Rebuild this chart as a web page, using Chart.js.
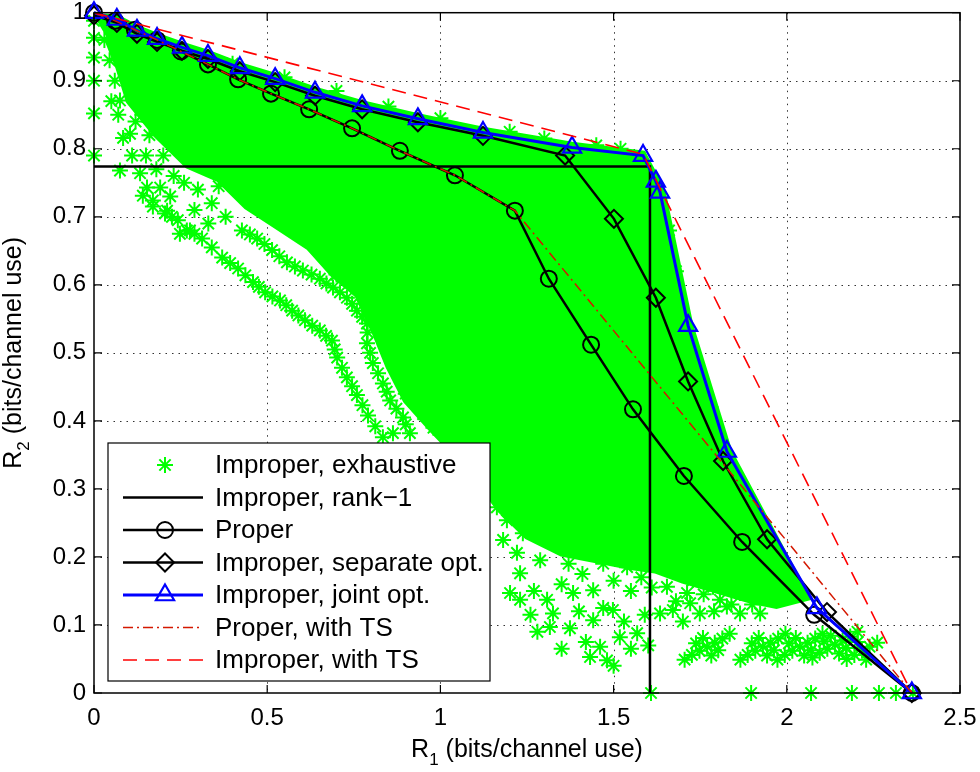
<!DOCTYPE html>
<html lang="en">
<head>
<meta charset="UTF-8" />
<title>Rate region - proper vs improper signaling</title>
<script src="https://cdn.jsdelivr.net/npm/chart.js@4.4.0/dist/chart.umd.min.js"></script>
<style>
  html, body { margin: 0; padding: 0; background: #fff; }
  #wrap { width: 980px; height: 772px; }
</style>
</head>
<body>
<div id="wrap"><canvas id="regionChart" width="980" height="772"></canvas></div>
<script>
// ---- axis ticks ----
var xTicks = [0, 0.5, 1, 1.5, 2, 2.5];
var xTickLabels = ["0", "0.5", "1", "1.5", "2", "2.5"];
var yTicks = [0, 0.1, 0.2, 0.3, 0.4, 0.5, 0.6, 0.7, 0.8, 0.9, 1];
var yTickLabels = ["0", "0.1", "0.2", "0.3", "0.4", "0.5", "0.6", "0.7", "0.8", "0.9", "1"];

// ---- curves (R1, R2) ----
var properR1 = [0, 0.061, 0.118, 0.182, 0.251, 0.329, 0.416, 0.511, 0.621, 0.745, 0.883, 1.042, 1.215, 1.313, 1.435, 1.556, 1.703, 1.871, 2.079, 2.361];
var properR2 = [1.0, 0.988, 0.975, 0.960, 0.943, 0.924, 0.902, 0.881, 0.858, 0.830, 0.797, 0.761, 0.709, 0.609, 0.512, 0.417, 0.319, 0.222, 0.115, 0];

var sepR1 = [0, 0.066, 0.124, 0.182, 0.254, 0.329, 0.421, 0.523, 0.638, 0.774, 0.935, 1.123, 1.360, 1.501, 1.622, 1.715, 1.816, 1.943, 2.116, 2.361];
var sepR2 = [0.996, 0.985, 0.969, 0.957, 0.944, 0.932, 0.914, 0.898, 0.878, 0.858, 0.839, 0.819, 0.790, 0.697, 0.581, 0.458, 0.341, 0.226, 0.119, 0];

var jointR1 = [0, 0.066, 0.124, 0.182, 0.254, 0.329, 0.421, 0.523, 0.638, 0.774, 0.935, 1.123, 1.380, 1.585, 1.622, 1.634, 1.715, 1.827, 2.087, 2.361];
var jointR2 = [1.0, 0.990, 0.974, 0.962, 0.949, 0.937, 0.919, 0.903, 0.883, 0.863, 0.844, 0.824, 0.802, 0.790, 0.752, 0.736, 0.540, 0.355, 0.125, 0];

var rank1R1 = [0, 1.605, 1.605];
var rank1R2 = [0.774, 0.774, 0];

var properTsR1 = [0, 0.061, 0.118, 0.182, 0.251, 0.329, 0.416, 0.511, 0.621, 0.745, 0.883, 1.042, 1.215, 2.361];
var properTsR2 = [1.0, 0.988, 0.975, 0.960, 0.943, 0.924, 0.902, 0.881, 0.858, 0.830, 0.797, 0.761, 0.709, 0];

var improperTsR1 = [0, 1.585, 2.361];
var improperTsR2 = [1.0, 0.792, 0];

// ---- exhaustive search: dense core outline ----
var coreR1 = [0, 0.066, 0.124, 0.182, 0.254, 0.329, 0.421, 0.523, 0.638, 0.774, 0.935, 1.123, 1.380, 1.585, 1.628, 1.642, 1.722, 1.834, 2.06,
              1.97, 1.90, 1.80, 1.70, 1.62, 1.55, 1.45, 1.35, 1.25, 1.17, 1.10, 0.97, 0.90, 0.85, 0.81, 0.76, 0.69, 0.62, 0.53, 0.44, 0.36, 0.27, 0.18, 0.10, 0.07, 0.035];
var coreR2 = [0.995, 0.993, 0.978, 0.966, 0.953, 0.941, 0.923, 0.907, 0.887, 0.867, 0.848, 0.828, 0.806, 0.793, 0.752, 0.736, 0.540, 0.355, 0.14,
              0.128, 0.135, 0.15, 0.165, 0.18, 0.185, 0.195, 0.205, 0.23, 0.27, 0.32, 0.39, 0.43, 0.48, 0.53, 0.585, 0.615, 0.655, 0.685, 0.715, 0.755, 0.775, 0.82, 0.87, 0.92, 0.965];

// ---- exhaustive search: scattered points ----
var exhR1 = [
  0, 0, 0, 0, 0, 0,
  0.03, 0.045, 0.06, 0.05, 0.07, 0.084, 0.095, 0.075, 0.084, 0.104, 0.075, 0.133, 0.153, 0.170, 0.211, 0.191, 0.248, 0.277,
  0.12, 0.14, 0.16, 0.11, 0.20, 0.23, 0.17, 0.30, 0.34, 0.38, 0.33, 0.12, 0.15, 0.18, 0.26, 0.22, 0.29, 0.36,
  0.141, 0.205, 0.242, 0.268, 0.312, 0.370, 0.416, 0.459, 0.494, 0.537, 0.572, 0.609, 0.652, 0.687, 0.702, 0.730, 0.759, 0.791, 0.834, 0.863,
  0.17, 0.225, 0.29, 0.34, 0.393, 0.437, 0.476, 0.515, 0.555, 0.59, 0.63, 0.67, 0.695, 0.716, 0.745, 0.775, 0.812,
  0.427, 0.471, 0.514, 0.557, 0.603, 0.652, 0.690, 0.730, 0.759, 0.788, 0.788, 0.805, 0.834, 0.855, 0.892, 0.912,
  0.45, 0.492, 0.535, 0.58, 0.628, 0.671, 0.71, 0.745, 0.774, 0.79, 0.797, 0.82, 0.845, 0.873, 0.90,
  0.88, 0.90, 0.93, 0.95, 0.98, 1.00, 1.03, 1.06, 0.85, 0.83, 0.86, 0.81, 0.76, 0.70, 0.90, 0.94,
  0.70, 0.85, 1.00, 1.20, 1.30, 1.45, 1.52, 0.40, 0.55,
  1.745, 1.78, 1.85, 1.90, 1.95, 1.68, 1.66,
  1.163, 1.192, 1.181, 1.238, 1.221, 1.288, 1.230, 1.201, 1.230, 1.308, 1.383, 1.441, 1.325, 1.316, 1.374, 1.441, 1.498, 1.461, 1.518, 1.432,
  1.568, 1.481, 1.634, 1.671, 1.721, 1.749, 1.827, 1.865, 1.923, 1.972,
  1.403, 1.461, 1.518, 1.556, 1.597, 1.539, 1.432, 1.365, 1.308, 1.267,
  1.16, 1.20, 1.15, 1.25, 1.33, 1.37, 1.41, 1.47, 1.50, 1.55, 1.58, 1.61, 1.63, 1.35, 1.27, 1.26, 1.28, 1.40, 1.47, 1.53, 1.59, 1.60, 1.55, 1.50, 1.42, 1.35,
  1.654, 1.729, 1.787, 1.865, 1.943, 2.001, 1.654, 1.712, 1.807, 1.68, 1.76, 1.84, 1.90, 1.70, 1.79,
  1.770, 1.792, 1.748, 1.814, 1.726, 1.835, 1.705, 1.782, 1.758, 1.802, 1.738,
  1.931, 1.953, 1.909, 1.975, 1.887, 1.996, 1.866, 1.943, 1.919, 1.963, 1.899,
  2.038, 2.060, 2.016, 2.082, 1.994, 2.103, 1.973, 2.050, 2.026, 2.070, 2.006,
  2.139, 2.161, 2.117, 2.183, 2.095, 2.204, 2.074, 2.151, 2.127, 2.171, 2.107,
  2.217, 2.239, 2.195, 2.261, 2.173, 2.229, 2.205,
  1.608, 1.897, 2.07, 2.188, 2.266, 2.315, 2.364
];
var exhR2 = [
  0.988, 0.963, 0.934, 0.900, 0.852, 0.790,
  0.96, 0.93, 0.90, 0.87, 0.85, 0.934, 0.905, 0.871, 0.816, 0.822, 0.768, 0.764, 0.743, 0.724, 0.709, 0.743, 0.675, 0.680,
  0.88, 0.85, 0.82, 0.79, 0.79, 0.76, 0.86, 0.74, 0.72, 0.70, 0.69, 0.84, 0.79, 0.77, 0.75, 0.73, 0.71, 0.745,
  0.731, 0.705, 0.695, 0.680, 0.668, 0.640, 0.624, 0.604, 0.589, 0.577, 0.562, 0.548, 0.533, 0.518, 0.493, 0.464, 0.438, 0.408, 0.376, 0.382,
  0.715, 0.70, 0.675, 0.655, 0.632, 0.614, 0.597, 0.583, 0.57, 0.555, 0.54, 0.525, 0.505, 0.478, 0.451, 0.423, 0.392,
  0.680, 0.668, 0.651, 0.633, 0.621, 0.609, 0.596, 0.581, 0.562, 0.543, 0.514, 0.485, 0.455, 0.430, 0.405, 0.382,
  0.674, 0.66, 0.642, 0.627, 0.615, 0.602, 0.589, 0.572, 0.553, 0.53, 0.50, 0.47, 0.443, 0.418, 0.395,
  0.47, 0.44, 0.43, 0.41, 0.39, 0.42, 0.38, 0.36, 0.50, 0.53, 0.545, 0.575, 0.60, 0.615, 0.50, 0.47,
  0.885, 0.862, 0.845, 0.825, 0.815, 0.805, 0.800, 0.925, 0.905,
  0.47, 0.42, 0.30, 0.25, 0.20, 0.62, 0.68,
  0.273, 0.254, 0.225, 0.235, 0.206, 0.195, 0.176, 0.147, 0.137, 0.137, 0.147, 0.151, 0.117, 0.097, 0.095, 0.107, 0.122, 0.068, 0.082, 0.053,
  0.088, 0.048, 0.117, 0.122, 0.132, 0.117, 0.127, 0.117, 0.117, 0.137,
  0.254, 0.235, 0.214, 0.254, 0.225, 0.185, 0.206, 0.225, 0.264, 0.288,
  0.33, 0.31, 0.30, 0.28, 0.255, 0.19, 0.175, 0.19, 0.165, 0.15, 0.17, 0.155, 0.19, 0.16, 0.15, 0.115, 0.09, 0.12, 0.125, 0.105, 0.115, 0.07, 0.065, 0.04, 0.075, 0.065,
  0.185, 0.166, 0.156, 0.147, 0.156, 0.147, 0.156, 0.147, 0.137, 0.135, 0.145, 0.13, 0.13, 0.105, 0.12,
  0.068, 0.074, 0.062, 0.080, 0.056, 0.087, 0.049, 0.055, 0.081, 0.063, 0.073,
  0.068, 0.074, 0.062, 0.080, 0.056, 0.087, 0.049, 0.055, 0.081, 0.063, 0.073,
  0.068, 0.074, 0.062, 0.080, 0.056, 0.087, 0.049, 0.055, 0.081, 0.063, 0.073,
  0.071, 0.077, 0.065, 0.083, 0.059, 0.090, 0.052, 0.058, 0.084, 0.066, 0.076,
  0.062, 0.068, 0.056, 0.074, 0.050, 0.049, 0.075,
  0, 0, 0, 0, 0, 0, 0
];

var legendOrder = ["Improper, exhaustive", "Improper, rank\u22121", "Proper", "Improper, separate opt.",
                   "Improper, joint opt.", "Proper, with TS", "Improper, with TS"];

var FONT = "'Liberation Sans', Arial, Helvetica, sans-serif";
var GREEN = "#00ff00";

function pts(xs, ys) {
  return xs.map(function (x, i) { return { x: x, y: ys[i] }; });
}

// MATLAB-like axes: dotted grid, box, inward ticks, labels, legend
var matlabAxes = {
  id: "matlabAxes",
  beforeDatasetsDraw: function (chart) {
    var ctx = chart.ctx, a = chart.chartArea, xs = chart.scales.x, ys = chart.scales.y;
    ctx.save();
    ctx.strokeStyle = "#333";
    ctx.lineWidth = 1;
    ctx.setLineDash([1.5, 5]);
    xTicks.slice(1, -1).forEach(function (v) {
      var p = Math.round(xs.getPixelForValue(v)) + 0.5;
      ctx.beginPath(); ctx.moveTo(p, a.top); ctx.lineTo(p, a.bottom); ctx.stroke();
    });
    yTicks.slice(1, -1).forEach(function (v) {
      var p = Math.round(ys.getPixelForValue(v)) + 0.5;
      ctx.beginPath(); ctx.moveTo(a.left, p); ctx.lineTo(a.right, p); ctx.stroke();
    });
    ctx.restore();
  },
  afterDatasetsDraw: function (chart) {
    var ctx = chart.ctx, a = chart.chartArea, xs = chart.scales.x, ys = chart.scales.y;
    ctx.save();
    ctx.strokeStyle = "#000";
    ctx.lineWidth = 1.5;
    ctx.setLineDash([]);
    ctx.strokeRect(a.left, a.top, a.right - a.left, a.bottom - a.top);
    ctx.lineWidth = 1.2;
    xTicks.forEach(function (v) {
      var p = xs.getPixelForValue(v);
      ctx.beginPath();
      ctx.moveTo(p, a.bottom); ctx.lineTo(p, a.bottom - 8);
      ctx.moveTo(p, a.top); ctx.lineTo(p, a.top + 8);
      ctx.stroke();
    });
    yTicks.forEach(function (v) {
      var p = ys.getPixelForValue(v);
      ctx.beginPath();
      ctx.moveTo(a.left, p); ctx.lineTo(a.left + 8, p);
      ctx.moveTo(a.right, p); ctx.lineTo(a.right - 8, p);
      ctx.stroke();
    });

    // tick labels
    ctx.fillStyle = "#000";
    ctx.font = "24px " + FONT;
    ctx.textAlign = "center";
    ctx.textBaseline = "alphabetic";
    xTicks.forEach(function (v, i) {
      ctx.fillText(xTickLabels[i], xs.getPixelForValue(v), a.bottom + 32);
    });
    ctx.textAlign = "right";
    ctx.textBaseline = "middle";
    yTicks.forEach(function (v, i) {
      ctx.fillText(yTickLabels[i], a.left - 8, ys.getPixelForValue(v));
    });

    // axis titles with subscripts
    function titleParts(sub) {
      return [
        { t: "R", f: "25px " + FONT, dy: 0 },
        { t: sub, f: "17px " + FONT, dy: 8 },
        { t: " (bits/channel use)", f: "25px " + FONT, dy: 0 }
      ];
    }
    function drawTitle(parts, cx, base) {
      var w = 0;
      parts.forEach(function (p) { ctx.font = p.f; w += ctx.measureText(p.t).width; });
      var x = cx - w / 2;
      ctx.textAlign = "left";
      ctx.textBaseline = "alphabetic";
      parts.forEach(function (p) {
        ctx.font = p.f;
        ctx.fillText(p.t, x, base + p.dy);
        x += ctx.measureText(p.t).width;
      });
    }
    drawTitle(titleParts("1"), (a.left + a.right) / 2, 757);
    ctx.save();
    ctx.translate(21, (a.top + a.bottom) / 2);
    ctx.rotate(-Math.PI / 2);
    drawTitle(titleParts("2"), 0, 0);
    ctx.restore();

    // legend box
    var L = 108, T = 443, R = 490, B = 681;
    ctx.fillStyle = "#fff";
    ctx.fillRect(L, T, R - L, B - T);
    ctx.strokeStyle = "#000";
    ctx.lineWidth = 1.2;
    ctx.strokeRect(L, T, R - L, B - T);
    legendOrder.forEach(function (label, i) {
      var ds = chart.data.datasets.find(function (d) { return d.label === label; });
      var cy = 465 + 32.5 * i;
      if (ds.showLine) {
        ctx.save();
        ctx.strokeStyle = ds.borderColor;
        ctx.lineWidth = ds.borderWidth;
        ctx.setLineDash(ds.borderDash || []);
        ctx.beginPath(); ctx.moveTo(123, cy); ctx.lineTo(203, cy); ctx.stroke();
        ctx.restore();
      }
      if (ds.pointRadius > 0 && Chart.helpers && Chart.helpers.drawPoint) {
        ctx.save();
        ctx.setLineDash([]);
        ctx.strokeStyle = ds.pointBorderColor;
        ctx.fillStyle = "rgba(0,0,0,0)";
        ctx.lineWidth = ds.pointBorderWidth;
        Chart.helpers.drawPoint(ctx, {
          pointStyle: ds.pointStyle, radius: ds.pointRadius,
          borderWidth: ds.pointBorderWidth, rotation: 0
        }, 165, cy);
        ctx.restore();
      }
      ctx.fillStyle = "#000";
      ctx.font = "26px " + FONT;
      ctx.textAlign = "left";
      ctx.textBaseline = "middle";
      ctx.fillText(label, 215, cy + 1);
    });
    ctx.restore();
  }
};

var lineBase = { showLine: true, clip: false, tension: 0, pointBackgroundColor: "rgba(0,0,0,0)" };

var regionChart = new Chart(document.getElementById("regionChart"), {
  type: "scatter",
  data: {
    datasets: [
      Object.assign({}, lineBase, {
        label: "Improper, with TS", data: pts(improperTsR1, improperTsR2),
        borderColor: "#ff0000", borderWidth: 1.6, borderDash: [14, 8], pointRadius: 0, order: 1
      }),
      Object.assign({}, lineBase, {
        label: "Proper, with TS", data: pts(properTsR1, properTsR2),
        borderColor: "#d41800", borderWidth: 1.5, borderDash: [10, 4, 2, 4], pointRadius: 0, order: 2
      }),
      Object.assign({}, lineBase, {
        label: "Improper, joint opt.", data: pts(jointR1, jointR2),
        borderColor: "#0000ff", borderWidth: 3, pointStyle: "triangle", pointRadius: 10.5,
        pointBorderColor: "#0000ff", pointBorderWidth: 2.2, order: 3
      }),
      Object.assign({}, lineBase, {
        label: "Improper, separate opt.", data: pts(sepR1, sepR2),
        borderColor: "#000", borderWidth: 2.5, pointStyle: "rectRot", pointRadius: 9,
        pointBorderColor: "#000", pointBorderWidth: 2, order: 4
      }),
      Object.assign({}, lineBase, {
        label: "Proper", data: pts(properR1, properR2),
        borderColor: "#000", borderWidth: 2.5, pointStyle: "circle", pointRadius: 8,
        pointBorderColor: "#000", pointBorderWidth: 2, order: 5
      }),
      Object.assign({}, lineBase, {
        label: "Improper, rank\u22121", data: pts(rank1R1, rank1R2),
        borderColor: "#000", borderWidth: 2.5, pointRadius: 0, order: 6
      }),
      {
        label: "Improper, exhaustive", data: pts(exhR1, exhR2), showLine: false, clip: false,
        pointStyle: "star", pointRadius: 8, pointBorderColor: GREEN, pointBackgroundColor: GREEN,
        pointBorderWidth: 2, borderColor: GREEN, order: 7
      },
      {
        label: "exhaustive core", data: pts(coreR1, coreR2), showLine: true, clip: false,
        fill: "shape", backgroundColor: GREEN, borderColor: GREEN, borderWidth: 6,
        pointRadius: 0, tension: 0, order: 8
      }
    ]
  },
  options: {
    responsive: false,
    animation: false,
    events: [],
    layout: { padding: { left: 94, right: 20, top: 12, bottom: 79 } },
    scales: {
      x: { type: "linear", min: 0, max: 2.5, display: false },
      y: { type: "linear", min: 0, max: 1, display: false }
    },
    plugins: {
      legend: { display: false },
      tooltip: { enabled: false }
    }
  },
  plugins: [matlabAxes]
});
</script>
</body>
</html>
